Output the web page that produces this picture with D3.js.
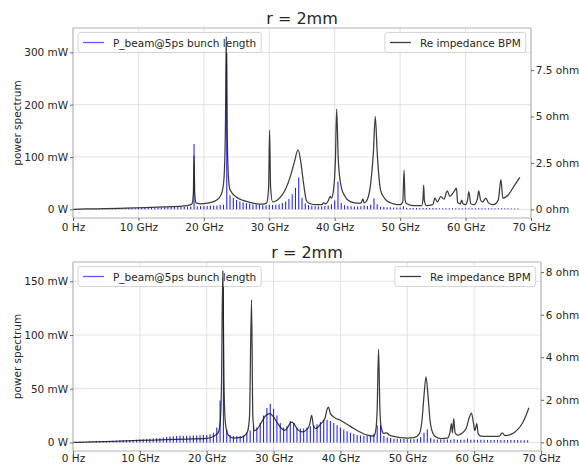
<!DOCTYPE html>
<html>
<head>
<meta charset="utf-8">
<script src="https://cdn.jsdelivr.net/npm/d3@7/dist/d3.min.js"></script>
<style>
  html, body { margin: 0; padding: 0; background: #fff; }
  svg { display: block; }
  text { font-family: "DejaVu Sans", sans-serif; }
</style>
</head>
<body>
<svg id="chart" width="579" height="465"></svg>
<script>
// ---- data -----------------------------------------------------------------
// Beam power lines sit on the RF harmonics: harmonic n is at n * harmonicStep GHz.
const harmonicStep = 0.5; // GHz

const freqTicks = [0, 10, 20, 30, 40, 50, 60, 70];
const freqTickLabels = ["0 Hz", "10 GHz", "20 GHz", "30 GHz", "40 GHz", "50 GHz", "60 GHz", "70 GHz"];

// Upper panel: beam power per harmonic (mW), harmonics 1..136 (0.5 .. 68 GHz)
const beamPowerTop = [
  0.5, 0.6, 0.7, 0.8, 0.9, 1.0, 1.1, 1.2, 1.3, 1.4,          // 0.5 - 5
  1.5, 1.6, 1.7, 1.8, 1.9, 2.0, 2.1, 2.2, 2.3, 2.5,          // 5.5 - 10
  2.6, 2.8, 3.0, 3.1, 3.3, 3.5, 3.7, 3.9, 4.1, 4.3,          // 10.5 - 15
  4.5, 4.7, 4.9, 5.1, 5.3, 5.5,                              // 15.5 - 18
  125,                                                       // 18.5
  6.0, 6.2, 6.4, 6.6, 6.9, 7.2, 7.6, 8.2, 9.0,               // 19 - 23
  330,                                                       // 23.5
  27, 22, 18, 15, 13, 11.5, 10.5, 9.5, 9, 8.5, 8, 8, 9,      // 24 - 30
  8.5, 9, 10, 12, 15, 20, 29, 41, 61, 22, 11, 8, 7,          // 30.5 - 36.5
  6, 6, 6, 6.5, 7.5, 10, 17, 53, 12, 8, 6.5, 6, 5.5,         // 37 - 43
  5.5, 6, 8, 6.5, 9, 21, 10, 5, 4.5, 4, 3.8, 3.6, 3.5,       // 43.5 - 49.5
  3.6, 6, 3.0, 2.8, 2.7, 2.6, 2.6, 2.5, 2.5, 2.4,            // 50 - 54.5
  2.4, 2.4, 2.3, 2.3, 2.3, 2.2, 2.2, 2.2, 2.2, 2.1,          // 55 - 59.5
  2.1, 2.1, 2.1, 2.0, 2.0, 2.0, 2.0, 2.0, 1.9, 1.9,          // 60 - 64.5
  1.9, 1.9, 1.9, 1.9, 1.8, 1.8, 1.8                          // 65 - 68
];

// Upper panel: real part of the BPM impedance, [GHz, ohm]
const impedanceTop = [
  [0, 0.0], [2, 0.02], [5, 0.04], [8, 0.07], [11, 0.1], [14, 0.13], [16, 0.16],
  [17.5, 0.2], [18.2, 0.3], [18.4, 0.9], [18.5, 2.9], [18.6, 0.9], [18.8, 0.35],
  [19.5, 0.3], [20.5, 0.33], [21.5, 0.42], [22.3, 0.6], [22.8, 0.95], [23.1, 1.8],
  [23.3, 4.5], [23.42, 9.3], [23.55, 4.5], [23.75, 1.8], [24.0, 1.05], [25, 0.65],
  [26, 0.48], [27, 0.38], [28, 0.3], [29, 0.28], [29.6, 0.35], [29.9, 1.2],
  [30.05, 4.26], [30.2, 1.2], [30.5, 0.4], [31, 0.45], [31.8, 0.7], [32.5, 1.1],
  [33.2, 1.75], [33.8, 2.5], [34.4, 3.2], [34.8, 2.6], [35.2, 1.5], [35.7, 0.45],
  [36.3, 0.3], [37, 0.25], [38, 0.25], [38.3, 0.35], [38.6, 0.3], [39.0, 0.45],
  [39.3, 0.7], [39.5, 0.6], [39.8, 1.0], [40.1, 2.6], [40.3, 5.4], [40.55, 2.6],
  [41, 1.2], [41.5, 0.75], [42, 0.5], [43, 0.35], [44, 0.33], [44.3, 0.55],
  [44.5, 0.35], [45, 0.55], [45.5, 1.4], [45.9, 3.0], [46.2, 5.0], [46.5, 3.0],
  [47, 1.05], [47.5, 0.65], [48, 0.45], [49, 0.3], [50, 0.25], [50.4, 0.4],
  [50.6, 2.1], [50.75, 0.5], [51, 0.3], [52, 0.2], [53.3, 0.2], [53.5, 0.6],
  [53.6, 1.3], [53.7, 0.5], [54, 0.2], [55, 0.25], [55.3, 0.6], [55.7, 0.4],
  [56.2, 0.68], [56.7, 0.55], [57.2, 1.0], [57.6, 0.7], [57.9, 0.8], [58.4, 1.05],
  [58.6, 1.15], [58.8, 0.35], [59.2, 0.3], [59.4, 0.5], [59.6, 0.3], [60.0, 0.25],
  [60.3, 0.5], [60.5, 0.95], [60.8, 0.3], [61.3, 0.25], [61.8, 0.55], [62.0, 1.0],
  [62.3, 0.5], [62.6, 0.4], [63.1, 0.6], [63.5, 0.35], [64.2, 0.25], [65.0, 0.5],
  [65.4, 1.6], [65.7, 0.6], [66.5, 0.77], [67.5, 1.3], [68.3, 1.72]
];

// Lower panel: beam power per harmonic (mW), harmonics 1..136 (0.5 .. 68 GHz)
const beamPowerBottom = [
  0.4, 0.5, 0.6, 0.7, 0.8, 0.9, 1.0, 1.1, 1.2, 1.3,          // 0.5 - 5
  1.4, 1.5, 1.6, 1.8, 1.9, 2.0, 2.2, 2.3, 2.5, 2.7,          // 5.5 - 10
  2.9, 3.1, 3.3, 3.6, 3.9, 4.2, 4.6, 5.0, 5.4, 5.8,          // 10.5 - 15
  6.0, 6.1, 6.2, 6.3, 6.3, 6.4, 6.5, 6.6, 6.8, 7.0,          // 15.5 - 20
  7.5, 9, 14, 39, 160, 12, 7, 6, 6, 6,                       // 20.5 - 25
  6.5, 9, 11, 16, 14, 18, 25, 32, 36, 31,                    // 25.5 - 30
  25, 18, 14, 15, 20, 18, 14, 13, 13, 14,                    // 30.5 - 35
  15, 16, 17, 19, 21, 21, 20, 18, 16, 14,                    // 35.5 - 40
  12, 10.5, 9, 8, 7, 6.5, 6, 6, 6, 8,                        // 40.5 - 45
  16, 16, 6, 4.5, 4, 3.5, 3.3, 3.2, 3.1, 3.0,                // 45.5 - 50
  3, 3, 3.5, 5, 9, 12, 4, 3, 2.8, 2.7,                       // 50.5 - 55
  2.6, 2.6, 2.5, 3, 2.5, 2.5, 2.5, 3.5, 2.5, 2.4,            // 55.5 - 60
  2.4, 2.4, 2.4, 2.3, 2.3, 2.3, 2.3, 2.3, 2.2, 2.2,          // 60.5 - 65
  2.2, 2.2, 2.2, 2.1, 2.1, 2.1                               // 65.5 - 68
];

// Lower panel: real part of the BPM impedance, [GHz, ohm]
const impedanceBottom = [
  [0, 0.0], [3, 0.02], [6, 0.05], [10, 0.09], [14, 0.13], [17, 0.16], [20, 0.19],
  [21, 0.28], [21.7, 0.45], [22.0, 0.9], [22.2, 2.5], [22.4, 8.07], [22.6, 2.5],
  [22.8, 0.9], [23.2, 0.35], [24, 0.2], [25, 0.22], [25.6, 0.3], [26.1, 0.5],
  [26.4, 1.2], [26.7, 6.7], [26.9, 1.2], [27.15, 0.55], [27.6, 0.65], [28.2, 0.95],
  [28.8, 1.25], [29.4, 1.35], [30.0, 1.2], [30.6, 0.9], [31.2, 0.65], [31.7, 0.57],
  [32.2, 0.75], [32.6, 0.95], [33.0, 0.9], [33.6, 0.6], [34.3, 0.5], [35.0, 0.6],
  [35.4, 0.85], [35.7, 1.27], [35.95, 0.8], [36.3, 0.65], [37.0, 0.85], [37.7, 1.15],
  [38.0, 1.55], [38.2, 1.66], [38.5, 1.35], [39.2, 1.15], [40, 1.04], [41, 0.85],
  [42, 0.65], [43, 0.48], [44, 0.34], [45, 0.3], [45.3, 0.6], [45.5, 1.6],
  [45.7, 4.37], [45.9, 1.6], [46.1, 0.7], [46.5, 0.42], [46.9, 0.45], [47.3, 0.35],
  [48, 0.28], [49, 0.22], [50, 0.2], [51, 0.22], [51.8, 0.4], [52.2, 1.04],
  [52.5, 2.2], [52.8, 3.08], [53.1, 2.2], [53.4, 1.04], [53.8, 0.45], [54.3, 0.25],
  [55, 0.18], [56, 0.2], [56.4, 0.5], [56.6, 0.88], [56.75, 0.45], [56.95, 1.12],
  [57.15, 0.45], [57.5, 0.34], [58, 0.4], [58.8, 0.65], [59.2, 1.1], [59.6, 1.38],
  [59.9, 0.9], [60.1, 0.55], [60.4, 0.88], [60.6, 0.4], [61, 0.3], [62, 0.28],
  [63, 0.28], [63.8, 0.3], [64.2, 0.45], [64.6, 0.32], [65.5, 0.38], [66.5, 0.6],
  [67.3, 0.95], [68.2, 1.63]
];

const powerTicksTop = [0, 100, 200, 300];
const powerTickLabelsTop = ["0 W", "100 mW", "200 mW", "300 mW"];
const ohmTicksTop = [0, 2.5, 5, 7.5];
const ohmTickLabelsTop = ["0 ohm", "2.5 ohm", "5 ohm", "7.5 ohm"];

const powerTicksBottom = [0, 50, 100, 150];
const powerTickLabelsBottom = ["0 W", "50 mW", "100 mW", "150 mW"];
const ohmTicksBottom = [0, 2, 4, 6, 8];
const ohmTickLabelsBottom = ["0 ohm", "2 ohm", "4 ohm", "6 ohm", "8 ohm"];

const panelTitle = "r = 2mm";
const yAxisTitle = "power spectrum";
const beamLegend = "P_beam@5ps bunch length";
const impedanceLegend = "Re impedance BPM";

// ---- drawing --------------------------------------------------------------
const svg = d3.select("#chart");
svg.append("rect").attr("width", 579).attr("height", 465).attr("fill", "#fff");

const FONT = 10.5;
const TEXT_COLOR = "#262626";

// 5% padding on each side of the data range, like a default autoscaled axis
function padded(lo, hi) {
  const m = 0.05 * (hi - lo);
  return [lo - m, hi + m];
}

function drawPanel(cfg) {
  const { left, right, top, bottom } = cfg.box;
  const g = svg.append("g");

  const x = d3.scaleLinear().domain([0, 70]).range([left, right]);
  const powerMax = d3.max(cfg.beam);
  const yL = d3.scaleLinear().domain(padded(0, powerMax)).range([bottom, top]);
  const zExt = d3.extent(cfg.impedance, d => d[1]);
  const yR = d3.scaleLinear().domain(padded(zExt[0], zExt[1])).range([bottom, top]);

  // grid
  const grid = g.append("g").attr("stroke", "#dedede").attr("stroke-width", 0.9);
  grid.selectAll("line.v").data(freqTicks).join("line")
    .attr("x1", d => x(d)).attr("x2", d => x(d)).attr("y1", top).attr("y2", bottom);
  grid.selectAll("line.h").data(cfg.powerTicks).join("line")
    .attr("y1", d => yL(d)).attr("y2", d => yL(d)).attr("x1", left).attr("x2", right);

  // beam harmonics as stems
  g.append("g").attr("stroke", "#0000ff").attr("stroke-opacity", 0.85).attr("stroke-width", 1.1)
    .selectAll("line").data(cfg.beam).join("line")
    .attr("x1", (d, i) => x((i + 1) * harmonicStep))
    .attr("x2", (d, i) => x((i + 1) * harmonicStep))
    .attr("y1", yL(0)).attr("y2", d => yL(d));

  // legend of the power axis
  drawLegend(g, left + 5, top + 4.5, beamLegend, "#0000ff", 0.65, "left");

  // impedance curve, drawn over the first axis
  const line = d3.line().x(d => x(d[0])).y(d => yR(d[1])).curve(d3.curveMonotoneX);
  g.append("path").datum(cfg.impedance)
    .attr("d", line).attr("fill", "none")
    .attr("stroke", "#1a1a1a").attr("stroke-opacity", 0.85).attr("stroke-width", 1.25)
    .attr("stroke-linejoin", "round");

  drawLegend(g, right - 5.3, top + 4.5, impedanceLegend, "#1a1a1a", 0.85, "right");

  // frame
  g.append("rect").attr("x", left).attr("y", top)
    .attr("width", right - left).attr("height", bottom - top)
    .attr("fill", "none").attr("stroke", "#b3b3b3").attr("stroke-width", 1);

  // axes
  const styleAxis = sel => {
    sel.select(".domain").remove();
    sel.selectAll(".tick line").attr("stroke", "#444").attr("stroke-width", 0.8);
    sel.selectAll(".tick text").attr("fill", TEXT_COLOR)
      .style("font-size", FONT + "px").style("font-family", "DejaVu Sans");
  };

  g.append("g").attr("transform", `translate(0,${bottom})`)
    .call(d3.axisBottom(x).tickValues(freqTicks)
      .tickFormat((d, i) => freqTickLabels[i]).tickSize(3).tickPadding(cfg.xTickPad))
    .call(styleAxis);

  g.append("g").attr("transform", `translate(${left},0)`)
    .call(d3.axisLeft(yL).tickValues(cfg.powerTicks)
      .tickFormat((d, i) => cfg.powerTickLabels[i]).tickSize(3).tickPadding(1.8))
    .call(styleAxis);

  g.append("g").attr("transform", `translate(${right},0)`)
    .call(d3.axisRight(yR).tickValues(cfg.ohmTicks)
      .tickFormat((d, i) => cfg.ohmTickLabels[i]).tickSize(3).tickPadding(1.8))
    .call(styleAxis);

  // titles
  g.append("text").attr("x", (left + right) / 2).attr("y", top - 4)
    .attr("text-anchor", "middle").attr("fill", TEXT_COLOR)
    .style("font-size", "16px").text(panelTitle);

  g.append("text")
    .attr("transform", `translate(${cfg.yTitleX},${(top + bottom) / 2}) rotate(-90)`)
    .attr("text-anchor", "middle").attr("dominant-baseline", "central")
    .attr("fill", TEXT_COLOR).style("font-size", FONT + "px").text(yAxisTitle);
}

function drawLegend(g, ax, ay, label, color, opacity, align) {
  const lg = g.append("g");
  const box = lg.append("rect");
  const txt = lg.append("text").attr("fill", TEXT_COLOR)
    .style("font-size", FONT + "px").text(label);
  const tw = txt.node().getComputedTextLength();
  const pad = 5, lineLen = 21, gap = 9, h = 20;
  const w = pad + lineLen + gap + tw + pad;
  const x0 = align === "left" ? ax : ax - w;
  box.attr("x", x0).attr("y", ay).attr("width", w).attr("height", h)
    .attr("rx", 2.5).attr("fill", "#fff").attr("fill-opacity", 0.8)
    .attr("stroke", "#d0d0d0").attr("stroke-width", 0.9);
  lg.append("line")
    .attr("x1", x0 + pad).attr("x2", x0 + pad + lineLen)
    .attr("y1", ay + h / 2).attr("y2", ay + h / 2)
    .attr("stroke", color).attr("stroke-opacity", opacity).attr("stroke-width", 1.3);
  txt.attr("x", x0 + pad + lineLen + gap).attr("y", ay + h / 2)
    .attr("dominant-baseline", "central");
  txt.raise();
}

drawPanel({
  box: { left: 73, right: 531, top: 28, bottom: 218 },
  beam: beamPowerTop, impedance: impedanceTop,
  powerTicks: powerTicksTop, powerTickLabels: powerTickLabelsTop,
  ohmTicks: ohmTicksTop, ohmTickLabels: ohmTickLabelsTop,
  yTitleX: 16.5, xTickPad: 2.5
});

drawPanel({
  box: { left: 73, right: 541, top: 262, bottom: 451 },
  beam: beamPowerBottom, impedance: impedanceBottom,
  powerTicks: powerTicksBottom, powerTickLabels: powerTickLabelsBottom,
  ohmTicks: ohmTicksBottom, ohmTickLabels: ohmTickLabelsBottom,
  yTitleX: 16.5, xTickPad: 1
});
</script>
</body>
</html>
